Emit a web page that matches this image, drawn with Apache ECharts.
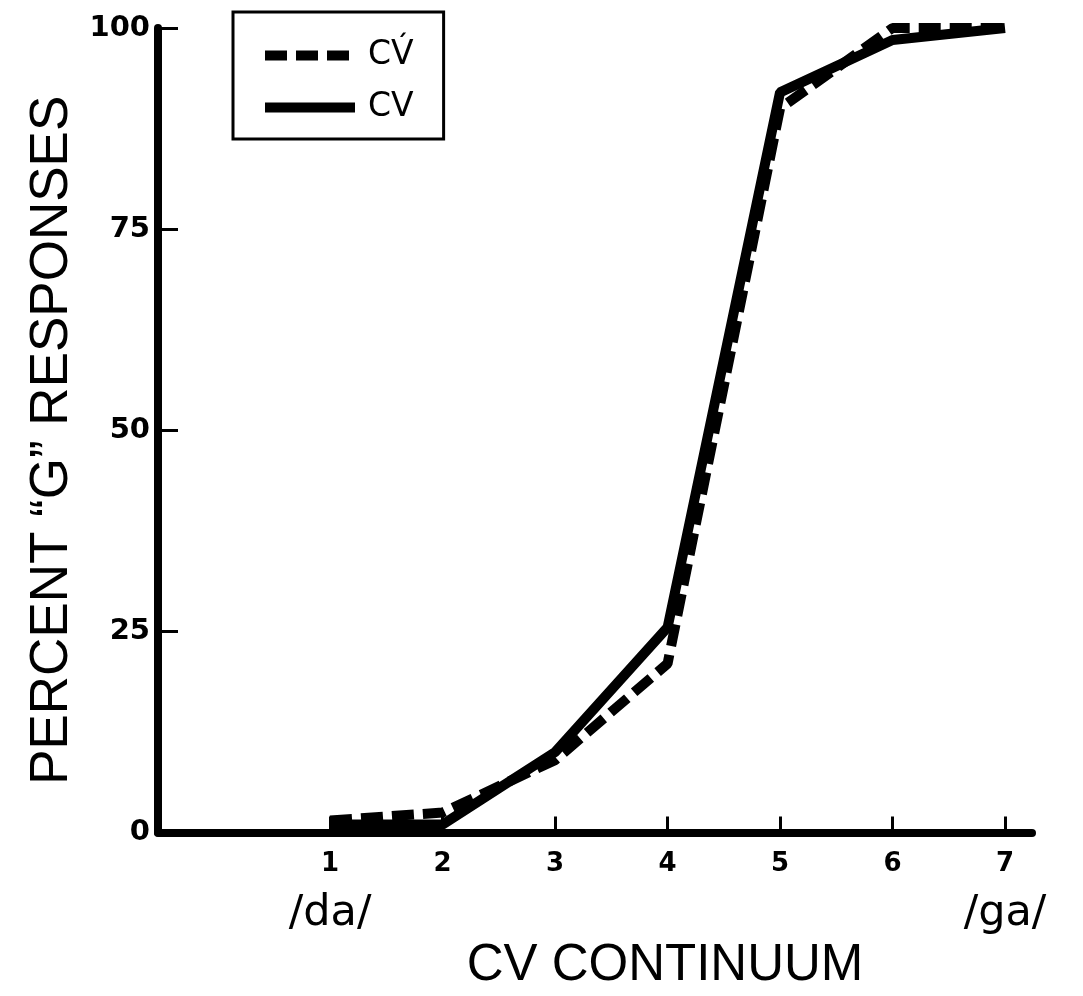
<!DOCTYPE html>
<html>
<head>
<meta charset="utf-8">
<script src="https://cdn.jsdelivr.net/npm/echarts@6/dist/echarts.min.js"></script>
<style>
  html, body { margin: 0; padding: 0; background: #fff; }
  #chart { width: 1083px; height: 996px; }
</style>
</head>
<body>
<div id="chart"></div>
<script>
// continuum steps and percent "G" responses
const steps = [1, 2, 3, 4, 5, 6, 7];
const cvPrime = [1.5, 2.5, 9, 21, 90, 100, 100]; // dashed
const cv = [1, 1, 10, 25.5, 92, 98.5, 100]; // solid
const yTicks = [0, 25, 50, 75, 100];
const endLabels = { 1: "/da/", 7: "/ga/" };

const chart = echarts.init(document.getElementById("chart"));

const pairs = (ys) => steps.map((x, i) => [x, ys[i]]);

const option = {
  backgroundColor: "#fff",
  animation: false,
  legend: {
    orient: "vertical",
    left: 233,
    top: 12,
    padding: [27, 30, 15, 27],
    borderColor: "#000",
    borderWidth: 3,
    borderRadius: 0,
    itemWidth: 90,
    itemHeight: 12,
    itemGap: 19,
    lineStyle: { width: 10 },
    itemStyle: { color: "transparent", borderWidth: 0 },
    textStyle: {
      fontFamily: "DejaVu Sans",
      fontSize: 33,
      color: "#000",
      padding: [0, 0, 0, 8],
    },
    data: ["CV\u0301", "CV"],
  },
  grid: { left: 158, right: 51, top: 28, bottom: 161, containLabel: false },
  xAxis: {
    type: "value",
    min: -0.53,
    max: 7.24,
    name: "CV CONTINUUM",
    nameLocation: "middle",
    nameGap: 94,
    nameTextStyle: {
      fontFamily: "Liberation Sans",
      fontSize: 51,
      color: "#000",
      padding: [0, 0, 0, 140],
    },
    axisLine: { show: true, lineStyle: { color: "#000", width: 8 } },
    axisTick: {
      show: true,
      inside: true,
      length: 16,
      customValues: steps,
      lineStyle: { color: "#000", width: 3 },
    },
    axisLabel: {
      customValues: steps,
      margin: 14,
      formatter: (v) =>
        endLabels[v] ? `{n|${v}}\n{p|${endLabels[v]}}` : `{n|${v}}`,
      rich: {
        n: { fontFamily: "DejaVu Sans", fontWeight: "bold", fontSize: 26, color: "#000", lineHeight: 36 },
        p: { fontFamily: "DejaVu Sans", fontSize: 43, color: "#000", lineHeight: 62 },
      },
    },
    splitLine: { show: false },
  },
  yAxis: {
    type: "value",
    min: 0,
    max: 100,
    interval: 25,
    name: "PERCENT \u201CG\u201D RESPONSES",
    nameLocation: "middle",
    nameRotate: 90,
    nameGap: 79,
    nameTextStyle: {
      fontFamily: "Liberation Sans",
      fontSize: 53,
      color: "#000",
      padding: [0, 20, 0, 0],
    },
    axisLine: { show: true, onZero: false, lineStyle: { color: "#000", width: 8 } },
    axisTick: { show: true, inside: true, length: 20, lineStyle: { color: "#000", width: 3 } },
    axisLabel: {
      margin: 8,
      fontFamily: "DejaVu Sans",
      fontWeight: "bold",
      fontSize: 29,
      color: "#000",
      customValues: yTicks,
    },
    splitLine: { show: false },
  },
  series: [
    {
      name: "CV\u0301",
      type: "line",
      data: pairs(cvPrime),
      symbol: "none",
      lineStyle: { color: "#000", width: 10, type: [22, 9], cap: "butt" },
      itemStyle: { color: "#000" },
    },
    {
      name: "CV",
      type: "line",
      data: pairs(cv),
      symbol: "none",
      lineStyle: { color: "#000", width: 10, type: "solid" },
      itemStyle: { color: "#000" },
    },
  ],
};

chart.setOption(option);
</script>
</body>
</html>
